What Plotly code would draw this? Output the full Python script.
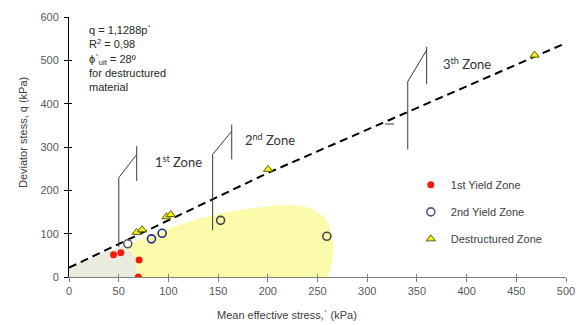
import plotly.graph_objects as go

# ---- data ----
yield1_p = [44.8, 52.1, 70.5, 69.8]
yield1_q = [51.4, 56.0, 39.0, 0.0]
yield2_p = [59.1, 83.0, 93.7, 152.5, 259.4]
yield2_q = [76.6, 88.0, 100.9, 130.7, 94.0]
destr_p = [68.0, 73.5, 98.0, 102.3, 200.3, 468.4]
destr_q = [103.0, 109.0, 139.0, 144.0, 248.5, 512.0]
fit_p = [0, 200, 500]
fit_q = [21.5, 240, 540]

gray_p = [0, 0, 53.8, 60.8, 66.8, 68.8]
gray_q = [0, 24.5, 70.4, 61.2, 42.9, 0]
yellow_p = [68.8, 66.8, 60.8, 57.5, 90.7, 123.9, 157.2, 190.4, 217, 240.2, 256.8, 264.1, 266.1, 263.4, 260.1]
yellow_q = [0, 42.9, 61.2, 68.8, 103.2, 130, 149, 160.5, 166, 160.5, 137.6, 99.5, 61.2, 22.9, 0]

zone_names = ["1<sup>st</sup> Zone", "2<sup>nd</sup> Zone", "3<sup>th</sup> Zone"]
zone_label_p = [110.6, 202, 400.6]
zone_label_q = [267.5, 318, 492]
br_left_p = [50.1, 144.5, 340.8]
br_left_q0 = [68.8, 107.8, 294.4]
br_left_q1 = [229.3, 282.9, 451.0]
br_right_p = [68.1, 163.7, 359.8]
br_diag_q = [282.9, 336.3, 523.6]
br_right_q0 = [221.7, 271.4, 444.8]
br_right_q1 = [302.0, 351.7, 531.2]

x_ticks = [0, 50, 100, 150, 200, 250, 300, 350, 400, 450, 500]
y_ticks = [0, 100, 200, 300, 400, 500, 600]

L, R, T, B = 69, 11, 13, 48
W, H = 586, 325
PW, PH = W - L - R, H - T - B

fig = go.Figure()

fig.add_trace(go.Scatter(x=gray_p, y=gray_q, fill="toself", mode="none",
                         fillcolor="#e9ebdf", showlegend=False, hoverinfo="skip"))
fig.add_trace(go.Scatter(x=yellow_p, y=yellow_q, fill="toself", mode="lines",
                         line=dict(width=0, shape="spline", smoothing=0.8),
                         fillcolor="#fcfbab", showlegend=False, hoverinfo="skip"))

fig.add_trace(go.Scatter(x=fit_p, y=fit_q, mode="lines",
                         line=dict(color="black", width=2, dash="8px,5px"),
                         showlegend=False))

for i in range(3):
    fig.add_trace(go.Scatter(
        x=[br_left_p[i], br_left_p[i], br_right_p[i]],
        y=[br_left_q0[i], br_left_q1[i], br_diag_q[i]],
        mode="lines", line=dict(color="#3a3a3a", width=1), showlegend=False, hoverinfo="skip"))
    fig.add_trace(go.Scatter(
        x=[br_right_p[i], br_right_p[i]],
        y=[br_right_q0[i], br_right_q1[i]],
        mode="lines", line=dict(color="#3a3a3a", width=1), showlegend=False, hoverinfo="skip"))
    fig.add_annotation(x=zone_label_p[i], y=zone_label_q[i], text=zone_names[i],
                       showarrow=False, font=dict(family="Lato", size=13, color="#333333"))

fig.add_trace(go.Scatter(x=[318, 327], y=[353, 353], mode="lines",
                         line=dict(color="#3a3a3a", width=1), showlegend=False, hoverinfo="skip"))

fig.add_trace(go.Scatter(x=yield1_p, y=yield1_q, mode="markers", name="1st Yield Zone",
                         legendgroup="a",
                         marker=dict(color="#f41a0c", size=7, line=dict(width=0))))
fig.add_trace(go.Scatter(x=yield2_p, y=yield2_q, mode="markers", name="2nd Yield Zone",
                         legendgroup="b",
                         marker=dict(color="rgba(255,255,255,0)", size=8, symbol="circle",
                                     line=dict(width=1.6,
                                               color=["#55557a", "#1d2a8a", "#1d2a8a", "#444444", "#444444"]))))
fig.add_trace(go.Scatter(x=destr_p, y=destr_q, mode="markers", name="Destructured Zone",
                         legendgroup="c",
                         marker=dict(color="#f3f016", size=8, symbol="triangle-up",
                                     line=dict(width=1, color="#5d5d10"))))

fig.add_trace(go.Scatter(x=[None], y=[None], xaxis="x2", yaxis="y2", showlegend=False))

fig.add_annotation(xref="paper", yref="paper", x=(87 - L) / PW, y=0.982,
                   xanchor="left", yanchor="top",
                   align="left", showarrow=False,
                   text="q = 1,1288p`<br>R<sup>2</sup> = 0,98<br>ϕ`<sub>ult</sub> = 28º<br>for destructured<br>material",
                   font=dict(family="Liberation Sans, Arial", size=11, color="#262626"))

fig.add_annotation(xref="paper", yref="paper", x=(291 - L) / PW, y=(H - B - 316) / PH,
                   xanchor="center", yanchor="middle",
                   text="Mean effective stress,` (kPa)", showarrow=False,
                   font=dict(family="Liberation Sans, Arial", size=11, color="#404040"))
fig.add_annotation(xref="paper", yref="paper", x=(22 - L) / PW, y=(H - B - 130) / PH,
                   xanchor="center", yanchor="middle",
                   text="Deviator stess, q (kPa)", showarrow=False, textangle=-90,
                   font=dict(family="Liberation Sans, Arial", size=11, color="#404040"))

fig.update_layout(
    width=W, height=H,
    margin=dict(l=L, r=R, t=T, b=B),
    paper_bgcolor="white", plot_bgcolor="white",
    font=dict(family="Liberation Sans, Arial", size=11, color="#595959"),
    xaxis=dict(range=[0, 500], tickvals=x_ticks, ticks="outside", ticklen=4,
               tickcolor="#7f7f7f", showline=True, linecolor="#7f7f7f", linewidth=1,
               showgrid=False, zeroline=False, tickfont=dict(size=11, color="#595959")),
    yaxis=dict(range=[0, 600], tickvals=y_ticks, ticks="outside", ticklen=4,
               tickcolor="#000000", showline=True, linecolor="#000000", linewidth=1,
               showgrid=False, zeroline=False, tickfont=dict(size=11, color="#595959"),
               ticklabelstandoff=3),
    xaxis2=dict(range=[0, 500], tickvals=x_ticks, ticks="inside", ticklen=3, overlaying="x",
                anchor="y2", tickcolor="#7f7f7f", showticklabels=False, showline=False,
                showgrid=False, zeroline=False, side="bottom"),
    yaxis2=dict(range=[0, 600], tickvals=y_ticks, ticks="inside", ticklen=3, overlaying="y",
                anchor="x2", tickcolor="#000000", showticklabels=False, showline=False,
                showgrid=False, zeroline=False, side="left"),
    legend=dict(x=(417 - L) / PW, y=(H - B - 174) / PH + 0.02, xanchor="left", yanchor="top",
                bgcolor="rgba(0,0,0,0)",
                font=dict(size=11, color="#404040"), tracegroupgap=8, itemwidth=30),
    showlegend=True,
)

fig.write_html("out.html")
